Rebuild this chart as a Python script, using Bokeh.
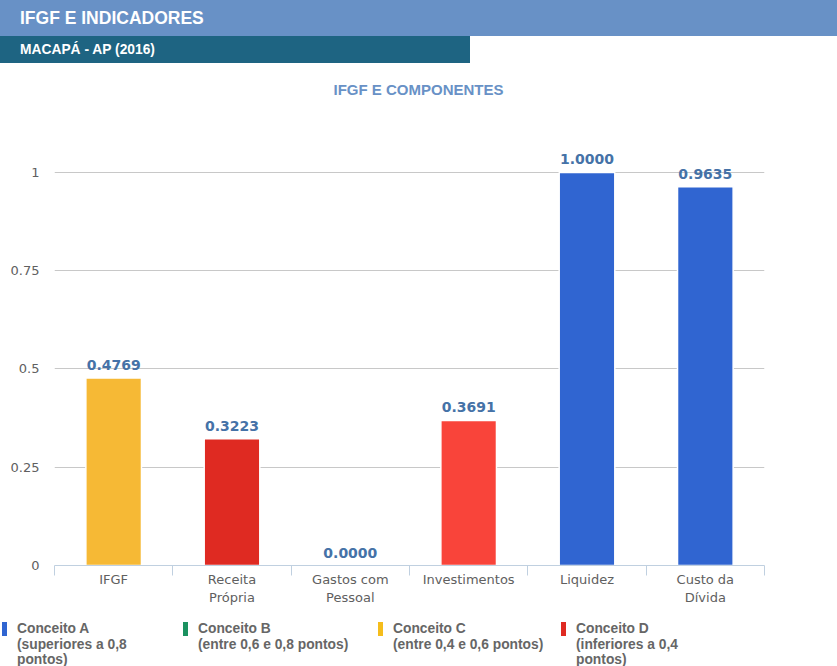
from bokeh.plotting import figure
from bokeh.models import Range1d, LinearAxis, FixedTicker, Div, ColumnDataSource
from bokeh.layouts import column
from bokeh.core.properties import value
from bokeh.embed import file_html
from bokeh.resources import INLINE

header_title = "IFGF E INDICADORES"
subheader = "MACAPÁ - AP (2016)"
chart_title = "IFGF E COMPONENTES"
categories = ["IFGF", "Receita\nPrópria", "Gastos com\nPessoal", "Investimentos", "Liquidez", "Custo da\nDívida"]
values = [0.4769, 0.3223, 0.0, 0.3691, 1.0, 0.9635]
bar_colors = ["#f6b935", "#df2a22", "#df2a22", "#f9443a", "#3065d1", "#3065d1"]
y_ticks = [0, 0.25, 0.5, 0.75, 1]
y_tick_labels = ["0", "0.25", "0.5", "0.75", "1"]
legend_labels = ["Conceito A\n(superiores a 0,8\npontos)",
                 "Conceito B\n(entre 0,6 e 0,8 pontos)",
                 "Conceito C\n(entre 0,4 e 0,6 pontos)",
                 "Conceito D\n(inferiores a 0,4\npontos)"]
legend_colors = ["#3065d1", "#1b9260", "#f5bd1c", "#df2a22"]

FONT_H = "'Liberation Sans', Arial, sans-serif"
W = 837

div1 = Div(text=f'<div style="width:{W}px;height:36px;background:#6891c6;color:#fff;'
                f'font-family:{FONT_H};font-weight:bold;font-size:17.5px;line-height:36px;'
                f'padding-left:20px;box-sizing:border-box;">{header_title}</div>',
           width=W, height=36, margin=0)
div2 = Div(text=f'<div style="width:470px;height:27px;background:#1e6482;color:#fff;'
                f'font-family:{FONT_H};font-weight:bold;font-size:13.8px;line-height:27px;'
                f'padding-left:20px;box-sizing:border-box;">{subheader}</div>',
           width=W, height=27, margin=0)
div3 = Div(text=f'<div style="width:{W}px;height:50px;color:#6891c6;text-align:center;'
                f'font-family:{FONT_H};font-weight:bold;font-size:15px;line-height:18px;'
                f'padding-top:18px;box-sizing:border-box;">{chart_title}</div>',
           width=W, height=50, margin=0)

n = len(categories)
centers = [i + 0.5 for i in range(n)]
src = ColumnDataSource(dict(x=centers, val=values, color=bar_colors,
                            lab=[f"{v:.4f}" for v in values]))

p = figure(x_range=Range1d(0, n), y_range=Range1d(0, 1.061),
           width=W, height=506, output_backend="svg", toolbar_location=None,
           x_axis_location=None, min_border_left=54, min_border_right=73,
           min_border_top=35, min_border_bottom=54, margin=0)
p.outline_line_color = None
p.background_fill_color = "white"
p.border_fill_color = "white"

cat_axis = LinearAxis(ticker=FixedTicker(ticks=centers, minor_ticks=list(range(n + 1))),
                      major_label_overrides={c: lab for c, lab in zip(centers, categories)},
                      axis_line_color="#c0d0e0", major_tick_line_color=None,
                      major_tick_out=0, major_tick_in=0,
                      minor_tick_line_color="#c0d0e0", minor_tick_out=10, minor_tick_in=0,
                      major_label_standoff=-4,
                      major_label_text_font="DejaVu Sans",
                      major_label_text_font_size="13px",
                      major_label_text_line_height=1.2,
                      major_label_text_color="#606060")
p.add_layout(cat_axis, "below")

yax = p.yaxis[0]
yax.ticker = FixedTicker(ticks=y_ticks)
yax.major_label_overrides = {t: l for t, l in zip(y_ticks, y_tick_labels)}
yax.axis_line_color = None
yax.major_tick_line_color = None
yax.minor_tick_line_color = None
yax.major_label_standoff = 9
yax.major_label_text_font = "DejaVu Sans"
yax.major_label_text_font_size = "13px"
yax.major_label_text_color = "#606060"
p.ygrid.grid_line_color = "#c8c8c8"
p.xgrid.grid_line_color = None

p.vbar(x="x", top="val", width=0.47, fill_color="color", line_color="white",
       line_width=1.5, source=src)
p.text(x="x", y="val", text="lab", source=src, text_align="center",
       text_baseline="bottom", y_offset=-8, text_font=value("DejaVu Sans"),
       text_font_style="bold", text_font_size="14px", text_color="#4572a7")

# legend strip as HTML
legend_x = [2, 183, 378, 561]
items_html = ""
for lab, col, lx in zip(legend_labels, legend_colors, legend_x):
    text = lab.replace("\n", "<br>")
    items_html += (f'<div style="position:absolute;left:{lx}px;top:3px;">'
                   f'<span style="position:absolute;left:0;top:0;width:5px;height:14px;'
                   f'background:{col};"></span>'
                   f'<span style="position:absolute;left:15px;top:-1px;white-space:nowrap;'
                   f'font-family:{FONT_H};font-weight:bold;font-size:13.8px;line-height:15.5px;'
                   f'color:#666666;">{text}</span></div>')
legend_div = Div(text=f'<div style="position:relative;width:{W}px;height:47px;">{items_html}</div>',
                 width=W, height=47, margin=0)

layout = column(div1, div2, div3, p, legend_div, spacing=0)
open("out.html", "w").write(file_html(layout, INLINE))
